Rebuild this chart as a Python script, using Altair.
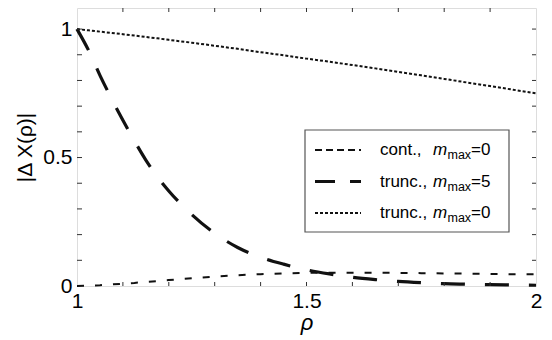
import altair as alt
import pandas as pd

# ---- data ----
rho = [1.0, 1.025, 1.05, 1.075, 1.1, 1.125, 1.15, 1.175, 1.2, 1.25, 1.3, 1.35,
       1.4, 1.45, 1.5, 1.55, 1.6, 1.65, 1.7, 1.75, 1.8, 1.85, 1.9, 1.95, 2.0]
cont_m0 = [0.0, 0.001, 0.003, 0.006, 0.009, 0.012, 0.016, 0.019, 0.023, 0.030, 0.037, 0.042,
           0.046, 0.049, 0.051, 0.052, 0.052, 0.052, 0.051, 0.050, 0.049, 0.048, 0.047, 0.046, 0.046]
trunc_m5 = [1.0, 0.918, 0.82, 0.73, 0.645, 0.565, 0.49, 0.425, 0.37, 0.278, 0.205, 0.150,
            0.112, 0.085, 0.063, 0.047, 0.034, 0.025, 0.018, 0.013, 0.009, 0.007, 0.005, 0.004, 0.003]
trunc_m0 = [1.0, 0.995, 0.99, 0.985, 0.98, 0.975, 0.969, 0.964, 0.958, 0.947, 0.935, 0.923,
            0.91, 0.898, 0.885, 0.873, 0.86, 0.847, 0.833, 0.82, 0.806, 0.792, 0.778, 0.764, 0.75]

x_labels = [1, 1.5, 2]
y_labels = [0, 0.5, 1]
x_minor = [1.1, 1.2, 1.3, 1.4, 1.5, 1.6, 1.7, 1.8, 1.9]
y_minor = [0.1, 0.2, 0.3, 0.4, 0.5, 0.6, 0.7, 0.8, 0.9, 1.0]

legend_names = ["cont.,", "trunc.,", "trunc.,"]
legend_values = ["=0", "=5", "=0"]

# ---- layout ----
W, H = 459, 278
FONT = "Liberation Sans"
xscale = alt.Scale(domain=[1, 2], nice=False, zero=False)
yscale = alt.Scale(domain=[0, 1.082], nice=False, zero=False)

def series_df(vals):
    return pd.DataFrame({"rho": rho, "val": vals})

xaxis = alt.Axis(values=x_labels, ticks=False, domain=False, grid=False,
                 labelFont=FONT, labelFontSize=21, labelColor="black", labelPadding=4,
                 labelFlush=False, title="ρ", titleFont=FONT, titleFontSize=22,
                 titleFontStyle="italic", titleFontWeight="normal", titleColor="black",
                 titlePadding=1, format="~g")
yaxis = alt.Axis(values=y_labels, ticks=False, domain=False, grid=False,
                 labelFont=FONT, labelFontSize=21, labelColor="black", labelPadding=5,
                 labelFlush=False, title="|Δ X(ρ)|", titleFont=FONT, titleFontSize=21,
                 titleFontWeight="normal", titleColor="black", titlePadding=7, format="~g")

X = alt.X("rho:Q", scale=xscale, axis=xaxis)
Y = alt.Y("val:Q", scale=yscale, axis=yaxis)

base_line = alt.Chart(series_df(cont_m0)).mark_line(
    color="#111", strokeWidth=2, strokeDash=[7, 11]
).encode(x=X, y=Y)

m5_line = alt.Chart(series_df(trunc_m5)).mark_line(
    color="#111", strokeWidth=3.2, strokeDash=[24, 20], interpolate="monotone"
).encode(x=X, y=Y)

m0_line = alt.Chart(series_df(trunc_m0)).mark_line(
    color="#111", strokeWidth=2, strokeDash=[3, 2]
).encode(x=X, y=Y)

# inward ticks
ydf = pd.DataFrame({"val": y_minor})
xdf = pd.DataFrame({"rho": x_minor})
tick_style = dict(color="#333", strokeWidth=1)
left_t = alt.Chart(ydf).mark_rule(**tick_style).encode(
    y=Y, x=alt.value(0), x2=alt.value(5))
right_t = alt.Chart(ydf).mark_rule(**tick_style).encode(
    y=Y, x=alt.value(W - 4), x2=alt.value(W))
bottom_t = alt.Chart(xdf).mark_rule(**tick_style).encode(
    x=X, y=alt.value(H), y2=alt.value(H - 4))
top_t = alt.Chart(xdf).mark_rule(**tick_style).encode(
    x=X, y=alt.value(0), y2=alt.value(4))

# legend (manual, to allow italic m with subscript)
BX0, BX1, BY0, BY1 = 228, 432, 122, 224
row_y = [142, 173.5, 205]
sample_x0, sample_x1 = 238, 284
text_x, m_x = 303, 356
FS = 17
dashes = [([7, 4], 2), ([20, 15], 3.2), ([3, 2], 2)]

legend_layers = [
    alt.Chart(pd.DataFrame({"a": [0]})).mark_rect(
        fill="white", stroke="#555", strokeWidth=1.2
    ).encode(x=alt.value(BX0), x2=alt.value(BX1), y=alt.value(BY0), y2=alt.value(BY1))
]
for i in range(3):
    one = pd.DataFrame({"a": [0]})
    dash, sw = dashes[i]
    legend_layers.append(alt.Chart(one).mark_rule(color="#111", strokeWidth=sw, strokeDash=dash)
                         .encode(x=alt.value(sample_x0), x2=alt.value(sample_x1), y=alt.value(row_y[i])))
    legend_layers.append(alt.Chart(one).mark_text(align="left", baseline="middle", font=FONT,
                                                  fontSize=FS, color="black")
                         .encode(x=alt.value(text_x), y=alt.value(row_y[i]), text=alt.value(legend_names[i])))
    legend_layers.append(alt.Chart(one).mark_text(align="left", baseline="middle", font=FONT,
                                                  fontSize=FS, fontStyle="italic", color="black")
                         .encode(x=alt.value(m_x), y=alt.value(row_y[i]), text=alt.value("m")))
    legend_layers.append(alt.Chart(one).mark_text(align="left", baseline="middle", font=FONT,
                                                  fontSize=12.5, color="black")
                         .encode(x=alt.value(m_x + 14.5), y=alt.value(row_y[i] + 5), text=alt.value("max")))
    legend_layers.append(alt.Chart(one).mark_text(align="left", baseline="middle", font=FONT,
                                                  fontSize=FS, color="black")
                         .encode(x=alt.value(m_x + 38), y=alt.value(row_y[i]), text=alt.value(legend_values[i])))

chart = alt.layer(
    base_line, m5_line, m0_line, left_t, right_t, bottom_t, top_t, *legend_layers
).properties(
    width=W, height=H,
    autosize=alt.AutoSizeParams(type="none"),
    padding={"left": 69, "top": 0, "right": 8, "bottom": 54},
).configure_view(
    stroke="#333", strokeWidth=1.2
).configure(background="white")

chart.save("out.html", embed_options={"renderer": "svg", "actions": False})
